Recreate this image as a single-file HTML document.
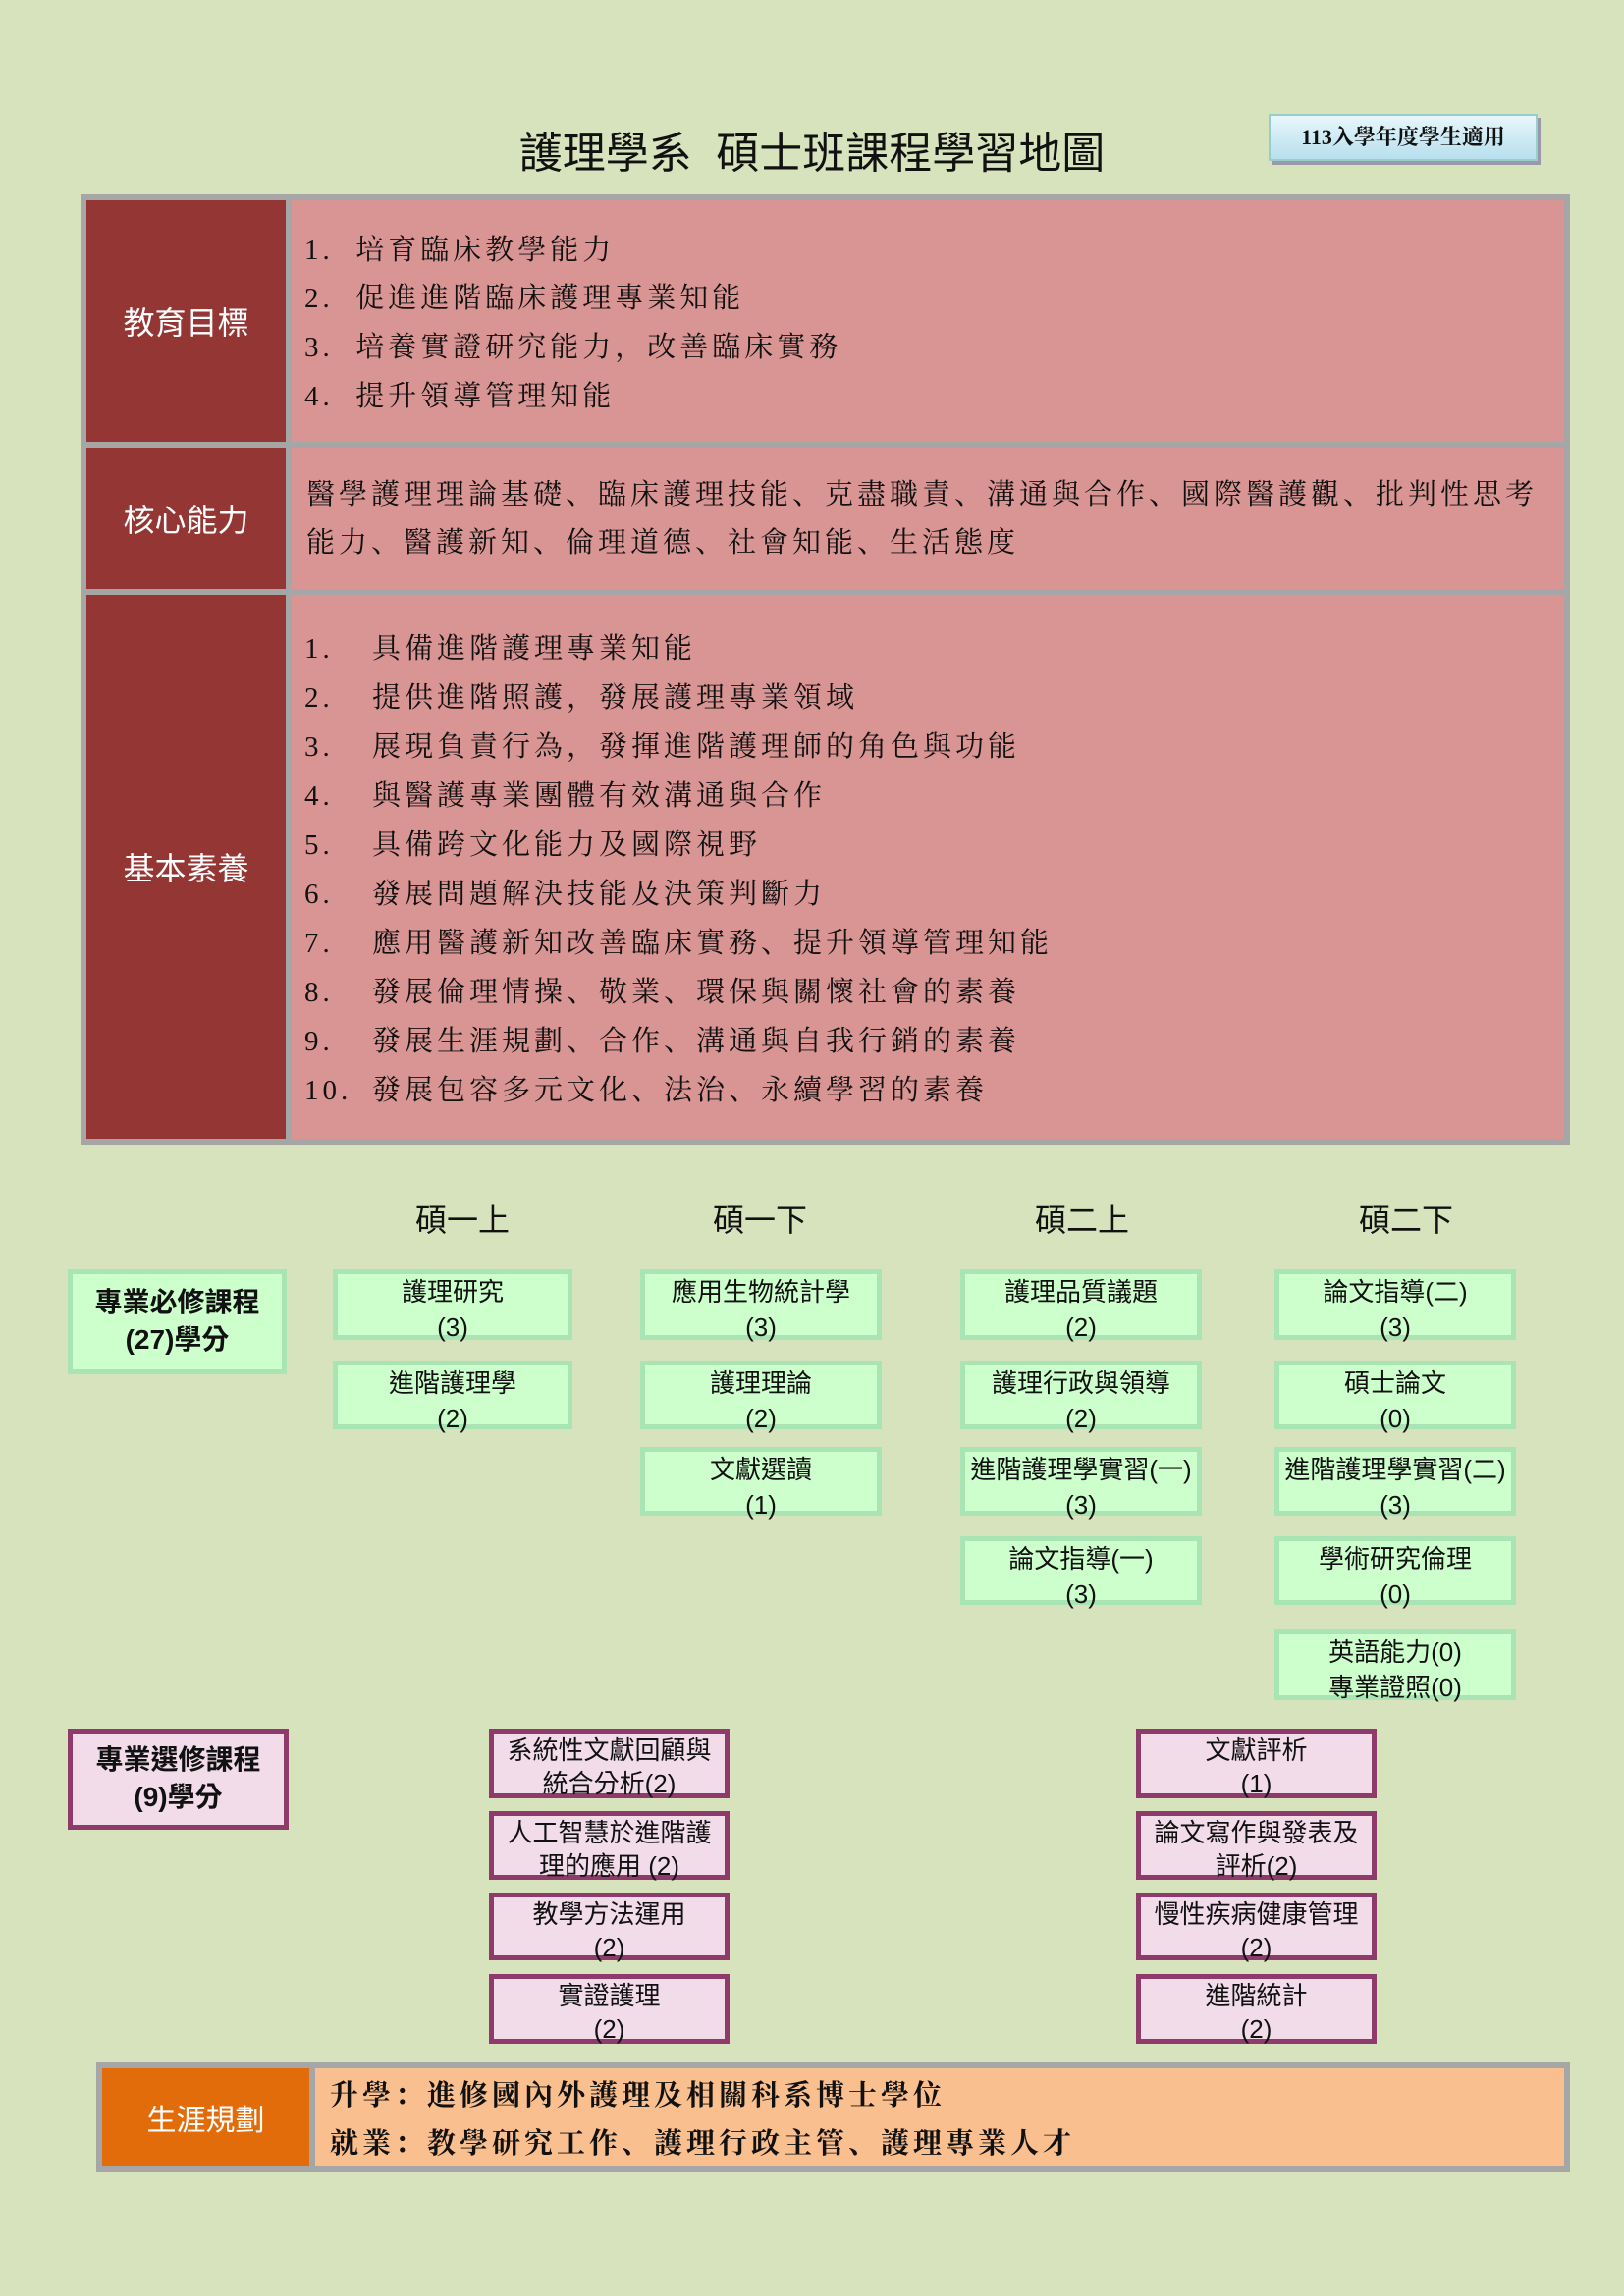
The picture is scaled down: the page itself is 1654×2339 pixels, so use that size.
<!DOCTYPE html>
<html><head><meta charset="utf-8"><style>
body{margin:0;width:1654px;height:2339px;background:#d7e3bc;position:relative;overflow:hidden;font-family:"Liberation Sans","Noto Sans CJK TC",sans-serif;color:#111}
.a{position:absolute;box-sizing:border-box}
.t{font-family:"Liberation Serif","Noto Serif CJK SC",serif}
.g{background:#ccffcc;border:5px solid #a8e4b4;text-align:center;font-size:26px;line-height:36px;padding-top:0px}
.p{background:#f2dcea;border:5px solid #8e3a6a;text-align:center;font-size:26px;line-height:34px;padding-top:0px}
.lab{background:#943634;color:#fff;font-size:32px;display:flex;align-items:center;justify-content:center}
.pk{background:#d99594}
.ln{position:absolute;font-size:29px;letter-spacing:4px;white-space:nowrap}
.sem{position:absolute;font-size:32px;width:240px;text-align:center;top:1218px}
</style></head><body>
<div class="a" style="left:0;top:120px;width:1654px;text-align:center;font-size:44px;">護理學系&nbsp;&nbsp;碩士班課程學習地圖</div>
<div class="a t" style="left:1292px;top:116px;width:274px;height:48px;background:linear-gradient(#e8f6fb,#b7dfee);border:2px solid #9cc;box-shadow:3px 4px 0 #99a;font-size:22px;font-weight:bold;text-align:center;line-height:44px">113入學年度學生適用</div>

<div class="a" style="left:82px;top:198px;width:1517px;height:968px;background:#a6a6a6"></div>
<div class="a lab" style="left:88px;top:204px;width:203px;height:246px">教育目標</div>
<div class="a pk" style="left:297px;top:204px;width:1296px;height:246px"></div>
<div class="a lab" style="left:88px;top:456px;width:203px;height:144px">核心能力</div>
<div class="a pk" style="left:297px;top:456px;width:1296px;height:144px"></div>
<div class="a lab" style="left:88px;top:606px;width:203px;height:554px">基本素養</div>
<div class="a pk" style="left:297px;top:606px;width:1296px;height:554px"></div>

<div class="t">
<div class="ln" style="left:310px;top:232px">1.&nbsp; 培育臨床教學能力</div>
<div class="ln" style="left:310px;top:281px">2.&nbsp; 促進進階臨床護理專業知能</div>
<div class="ln" style="left:310px;top:331px">3.&nbsp; 培養實證研究能力，改善臨床實務</div>
<div class="ln" style="left:310px;top:381px">4.&nbsp; 提升領導管理知能</div>
<div class="ln" style="left:312px;top:481px">醫學護理理論基礎、臨床護理技能、克盡職責、溝通與合作、國際醫護觀、批判性思考</div>
<div class="ln" style="left:312px;top:530px">能力、醫護新知、倫理道德、社會知能、生活態度</div>
</div>
<div class="t" style="position:absolute;left:310px;top:636px;font-size:29px;line-height:50px;letter-spacing:4px;white-space:nowrap">
<div><span style="display:inline-block;width:69px">1.</span>具備進階護理專業知能</div>
<div><span style="display:inline-block;width:69px">2.</span>提供進階照護，發展護理專業領域</div>
<div><span style="display:inline-block;width:69px">3.</span>展現負責行為，發揮進階護理師的角色與功能</div>
<div><span style="display:inline-block;width:69px">4.</span>與醫護專業團體有效溝通與合作</div>
<div><span style="display:inline-block;width:69px">5.</span>具備跨文化能力及國際視野</div>
<div><span style="display:inline-block;width:69px">6.</span>發展問題解決技能及決策判斷力</div>
<div><span style="display:inline-block;width:69px">7.</span>應用醫護新知改善臨床實務、提升領導管理知能</div>
<div><span style="display:inline-block;width:69px">8.</span>發展倫理情操、敬業、環保與關懷社會的素養</div>
<div><span style="display:inline-block;width:69px">9.</span>發展生涯規劃、合作、溝通與自我行銷的素養</div>
<div><span style="display:inline-block;width:69px">10.</span>發展包容多元文化、法治、永續學習的素養</div>
</div>

<div class="sem" style="left:351px">碩一上</div>
<div class="sem" style="left:654px">碩一下</div>
<div class="sem" style="left:982px">碩二上</div>
<div class="sem" style="left:1312px">碩二下</div>

<div class="a g" style="left:69px;top:1293px;width:223px;height:107px;font-weight:bold;font-size:28px;line-height:38px;padding-top:10px">專業必修課程<br>(27)學分</div>
<div class="a g" style="left:339px;top:1293px;width:244px;height:72px">護理研究<br>(3)</div>
<div class="a g" style="left:339px;top:1386px;width:244px;height:70px">進階護理學<br>(2)</div>
<div class="a g" style="left:652px;top:1293px;width:246px;height:72px">應用生物統計學<br>(3)</div>
<div class="a g" style="left:652px;top:1386px;width:246px;height:70px">護理理論<br>(2)</div>
<div class="a g" style="left:652px;top:1474px;width:246px;height:70px">文獻選讀<br>(1)</div>
<div class="a g" style="left:978px;top:1293px;width:246px;height:72px">護理品質議題<br>(2)</div>
<div class="a g" style="left:978px;top:1386px;width:246px;height:70px">護理行政與領導<br>(2)</div>
<div class="a g" style="left:978px;top:1474px;width:246px;height:70px">進階護理學實習(一)<br>(3)</div>
<div class="a g" style="left:978px;top:1565px;width:246px;height:70px">論文指導(一)<br>(3)</div>
<div class="a g" style="left:1298px;top:1293px;width:246px;height:72px">論文指導(二)<br>(3)</div>
<div class="a g" style="left:1298px;top:1386px;width:246px;height:70px">碩士論文<br>(0)</div>
<div class="a g" style="left:1298px;top:1474px;width:246px;height:70px">進階護理學實習(二)<br>(3)</div>
<div class="a g" style="left:1298px;top:1565px;width:246px;height:70px">學術研究倫理<br>(0)</div>
<div class="a g" style="left:1298px;top:1660px;width:246px;height:72px">英語能力(0)<br>專業證照(0)</div>

<div class="a p" style="left:69px;top:1761px;width:225px;height:103px;font-weight:bold;font-size:28px;line-height:38px;padding-top:8px">專業選修課程<br>(9)學分</div>
<div class="a p" style="left:498px;top:1761px;width:245px;height:71px">系統性文獻回顧與<br>統合分析(2)</div>
<div class="a p" style="left:498px;top:1845px;width:245px;height:70px">人工智慧於進階護<br>理的應用 (2)</div>
<div class="a p" style="left:498px;top:1928px;width:245px;height:69px">教學方法運用<br>(2)</div>
<div class="a p" style="left:498px;top:2011px;width:245px;height:71px">實證護理<br>(2)</div>
<div class="a p" style="left:1157px;top:1761px;width:245px;height:71px">文獻評析<br>(1)</div>
<div class="a p" style="left:1157px;top:1845px;width:245px;height:70px">論文寫作與發表及<br>評析(2)</div>
<div class="a p" style="left:1157px;top:1928px;width:245px;height:69px">慢性疾病健康管理<br>(2)</div>
<div class="a p" style="left:1157px;top:2011px;width:245px;height:71px">進階統計<br>(2)</div>

<div class="a" style="left:98px;top:2101px;width:1501px;height:112px;background:#a6a6a6"></div>
<div class="a" style="left:104px;top:2107px;width:211px;height:100px;background:#e36c0a;color:#fff;font-size:30px;display:flex;align-items:center;justify-content:center" >生涯規劃</div>
<div class="a" style="left:321px;top:2107px;width:1272px;height:100px;background:#fabf8f"></div>
<div class="ln t" style="left:336px;top:2112px;font-weight:bold;font-size:29px;letter-spacing:4px">升學：進修國內外護理及相關科系博士學位</div>
<div class="ln t" style="left:336px;top:2161px;font-weight:bold;font-size:29px;letter-spacing:4px">就業：教學研究工作、護理行政主管、護理專業人才</div>
</body></html>
